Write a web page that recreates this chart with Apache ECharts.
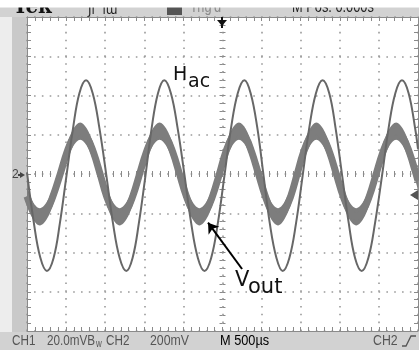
<!DOCTYPE html>
<html><head><meta charset="utf-8">
<script src="https://cdn.jsdelivr.net/npm/echarts@6/dist/echarts.min.js"></script>
<style>html,body{margin:0;padding:0;background:#fff}#c{width:419px;height:350px}</style>
</head><body><div id="c"></div>
<script>
// Time axis in divisions (500 us/div), 0..10 ; vertical in divisions -4..4
const hacX = [0,0.17,0.34,0.51,0.68,0.84,1.01,1.18,1.34,1.51,1.68,1.85,2.03,2.2,2.37,2.54,2.7,2.86,3.03,3.19,3.35,3.51,3.68,3.85,4.03,4.2,4.37,4.54,4.71,4.88,5.05,5.22,5.39,5.56,5.72,5.89,6.05,6.21,6.38,6.54,6.71,6.88,7.05,7.22,7.39,7.56,7.73,7.89,8.06,8.23,8.39,8.56,8.73,8.9,9.08,9.25,9.42,9.59,9.76,9.93,10];
const hacY = [0.04,-1.21,-2.13,-2.47,-2.14,-1.26,-0.04,1.18,2.06,2.39,2.06,1.18,-0.04,-1.26,-2.14,-2.47,-2.14,-1.26,-0.04,1.18,2.06,2.39,2.06,1.18,-0.04,-1.26,-2.14,-2.47,-2.14,-1.26,-0.04,1.18,2.06,2.39,2.06,1.18,-0.04,-1.26,-2.14,-2.47,-2.14,-1.26,-0.04,1.18,2.06,2.39,2.06,1.18,-0.04,-1.26,-2.14,-2.47,-2.14,-1.26,-0.04,1.18,2.06,2.39,2.06,1.14,0.64];
const voutX = [0,0.165,0.33,0.5,0.67,0.85,1.02,1.19,1.36,1.53,1.7,1.87,2.03,2.2,2.37,2.54,2.71,2.88,3.05,3.22,3.39,3.56,3.73,3.9,4.07,4.24,4.41,4.58,4.75,4.92,5.08,5.25,5.42,5.59,5.75,5.92,6.09,6.25,6.42,6.58,6.75,6.91,7.07,7.24,7.4,7.57,7.74,7.91,8.08,8.25,8.42,8.59,8.76,8.93,9.1,9.27,9.44,9.61,9.78,9.95,10];
const voutY = [-0.57,-0.95,-1.09,-0.94,-0.55,0,0.55,0.94,1.09,0.94,0.55,0,-0.55,-0.94,-1.09,-0.94,-0.55,0,0.55,0.94,1.09,0.94,0.55,0,-0.55,-0.94,-1.09,-0.94,-0.55,0,0.55,0.94,1.09,0.94,0.55,0,-0.55,-0.94,-1.09,-0.94,-0.55,0,0.55,0.94,1.09,0.94,0.55,0,-0.55,-0.94,-1.09,-0.94,-0.55,0,0.55,0.94,1.09,0.94,0.55,0,-0.17];
const voutNoise = 0.22;           // half height of the noisy band (div)
const arrowFrom = [5.5, -2.42];   // annotation arrow tail (data coords)
const arrowTo = [4.63, -1.24];    // annotation arrow head

const pair = (xs, ys) => xs.map((x, i) => [x, ys[i]]);

const GRID = '#8a8a8a';
const dots = { show: true, lineStyle: { color: '#9a9a9a', width: 1.6, type: [1.6, 6.23], dashOffset: 0.8 } };
function frameX(pos, split) {
  return { type: 'value', min: 0, max: 10, interval: 1, position: pos,
    axisLine: { show: true, onZero: false, lineStyle: { color: GRID, width: 1 } },
    axisTick: { show: true, inside: true, length: 4, lineStyle: { color: GRID } },
    minorTick: { show: true, splitNumber: 5, length: 4, lineStyle: { color: GRID } },
    axisLabel: { show: false }, splitLine: split ? dots : { show: false } };
}
function frameY(pos, split) {
  return { type: 'value', min: -4, max: 4, interval: 1, position: pos,
    axisLine: { show: true, onZero: false, lineStyle: { color: GRID, width: 1 } },
    axisTick: { show: true, inside: true, length: 4, lineStyle: { color: GRID } },
    minorTick: { show: true, splitNumber: 5, length: 4, lineStyle: { color: GRID } },
    axisLabel: { show: false }, splitLine: split ? dots : { show: false } };
}
function centerX(inside) {
  return { type: 'value', min: 0, max: 10, interval: 1, position: 'bottom',
    axisLine: { show: true, onZero: true, onZeroAxisIndex: 0, lineStyle: { color: 'rgba(0,0,0,0)' } },
    axisTick: { show: true, inside: inside, length: 3, lineStyle: { color: GRID } },
    minorTick: { show: true, splitNumber: 5, length: 3, lineStyle: { color: GRID } },
    axisLabel: { show: false }, splitLine: { show: false } };
}
function centerY(inside) {
  return { type: 'value', min: -4, max: 4, interval: 1, position: 'left',
    axisLine: { show: true, onZero: true, onZeroAxisIndex: 2, lineStyle: { color: 'rgba(0,0,0,0)' } },
    axisTick: { show: true, inside: inside, length: 3, lineStyle: { color: GRID } },
    minorTick: { show: true, splitNumber: 5, length: 3, lineStyle: { color: GRID } },
    axisLabel: { show: false }, splitLine: { show: false } };
}
const refX = { type: 'value', min: -5, max: 5, show: false, position: 'bottom',
  axisLine: { onZero: false } };

const SANS = '"Liberation Sans",Arial,sans-serif';
const txt = (x, y, text, size, fill, opts = {}) => ({ type: 'text', x, y, z: 10,
  scaleX: opts.sx || 1,
  style: { text, font: (opts.weight ? opts.weight + ' ' : '') + size + 'px ' + (opts.family || '"DejaVu Sans",sans-serif'),
    fill, verticalAlign: 'middle', align: 'left' } });

const option = {
  animation: false,
  backgroundColor: '#ffffff',
  grid: { left: 27, top: 17, width: 391, height: 314, show: false },
  xAxis: [frameX('bottom', true), frameX('top', false), refX, centerX(true), centerX(false)],
  yAxis: [frameY('left', true), frameY('right', false), centerY(true), centerY(false)],
  series: [
    { type: 'custom', name: 'VoutBand', coordinateSystem: 'cartesian2d', clip: true, z: 3,
      data: [[voutX[0], voutY[0]]],
      renderItem: function (params, api) {
        const up = voutX.map((x, i) => api.coord([x, voutY[i] + voutNoise]));
        const lo = voutX.map((x, i) => api.coord([x, voutY[i] - voutNoise])).reverse();
        return { type: 'polygon', shape: { points: up.concat(lo), smooth: 0.35 },
          style: { fill: '#7d7d7d', stroke: null } };
      } },
    { type: 'line', name: 'Vout', data: pair(voutX, voutY), smooth: 0.4, symbol: 'none',
      lineStyle: { color: '#7d7d7d', width: 7 }, z: 3,
      markLine: { silent: true, symbol: ['none', 'arrow'], symbolSize: 10, animation: false,
        label: { show: false }, lineStyle: { color: '#000', width: 2, type: 'solid' },
        data: [[{ coord: arrowFrom }, { coord: arrowTo }]] } },
    { type: 'line', name: 'Hac', data: pair(hacX, hacY), smooth: 0.4, symbol: 'none',
      lineStyle: { color: '#676767', width: 2 }, z: 4 }
  ],
  graphic: [
    { type: 'rect', shape: { x: 0, y: 0, width: 419, height: 17 }, style: { fill: '#d2d2d2' }, z: -5 },
    { type: 'rect', shape: { x: 0, y: 17, width: 12, height: 315 }, style: { fill: '#ededed' }, z: -5 },
    { type: 'rect', shape: { x: 12, y: 17, width: 15, height: 315 }, style: { fill: '#c9c9c9' }, z: -5 },
    { type: 'rect', shape: { x: 0, y: 332, width: 419, height: 18 }, style: { fill: '#d2d2d2' }, z: -5 },
    txt(13, 7, 'Tek', 22, '#111', { weight: 'bold', family: '"DejaVu Serif",serif', sx: 0.9 }),
    txt(88, 11, 'Jl  lɯ', 12, '#222'),
    { type: 'rect', shape: { x: 167, y: 6, width: 15, height: 9 }, style: { fill: '#555' }, z: 10 },
    txt(190, 8, "Trig'd", 16, '#8a8a8a', { family: SANS, sx: 0.8 }),
    txt(292, 8, 'M Pos: 0.000s', 16, '#222', { family: SANS, sx: 0.8 }),
    { type: 'rect', shape: { x: 0, y: 0, width: 419, height: 7.5 }, style: { fill: '#ffffff' }, z: 20 },
    { type: 'polygon', shape: { points: [[217, 20], [227, 20], [222, 26]] }, style: { fill: '#111' }, z: 10 },
    { type: 'rect', shape: { x: 221, y: 17, width: 2, height: 11 }, style: { fill: '#111' }, z: 10 },
    txt(12, 175, '2', 12, '#444', { family: SANS }),
    { type: 'polygon', shape: { points: [[20, 172], [25, 175], [20, 178]] }, style: { fill: '#444' }, z: 10 },
    { type: 'rect', shape: { x: 18, y: 174, width: 4, height: 2 }, style: { fill: '#444' }, z: 10 },
    { type: 'polygon', shape: { points: [[418, 190], [410, 195], [418, 200]] }, style: { fill: '#555' }, z: 10 },
    txt(173, 75.5, 'H', 19, '#111'),
    txt(188, 82.5, 'ac', 19, '#111'),
    txt(235, 280.5, 'V', 21, '#111'),
    txt(248, 288, 'out', 21, '#111'),
    txt(12, 341, 'CH1', 15, '#555', { family: SANS, sx: 0.78 }),
    txt(47, 341, '20.0mVB', 15, '#555', { family: SANS, sx: 0.78 }),
    txt(96, 344, 'w', 10, '#555', { family: SANS, sx: 0.8 }),
    txt(106, 341, 'CH2', 15, '#555', { family: SANS, sx: 0.78 }),
    txt(150, 341, '200mV', 15, '#555', { family: SANS, sx: 0.82 }),
    txt(220, 341, 'M 500µs', 15, '#000', { family: SANS, sx: 0.85 }),
    txt(373, 341, 'CH2', 15, '#555', { family: SANS, sx: 0.82 }),
    { type: 'polyline', shape: { points: [[402, 346], [406, 346], [411, 336], [416, 336]] }, style: { stroke: '#555', lineWidth: 1.3, fill: null }, z: 10 }
  ]
};
const chart = echarts.init(document.getElementById('c'));
chart.setOption(option);
</script></body></html>
